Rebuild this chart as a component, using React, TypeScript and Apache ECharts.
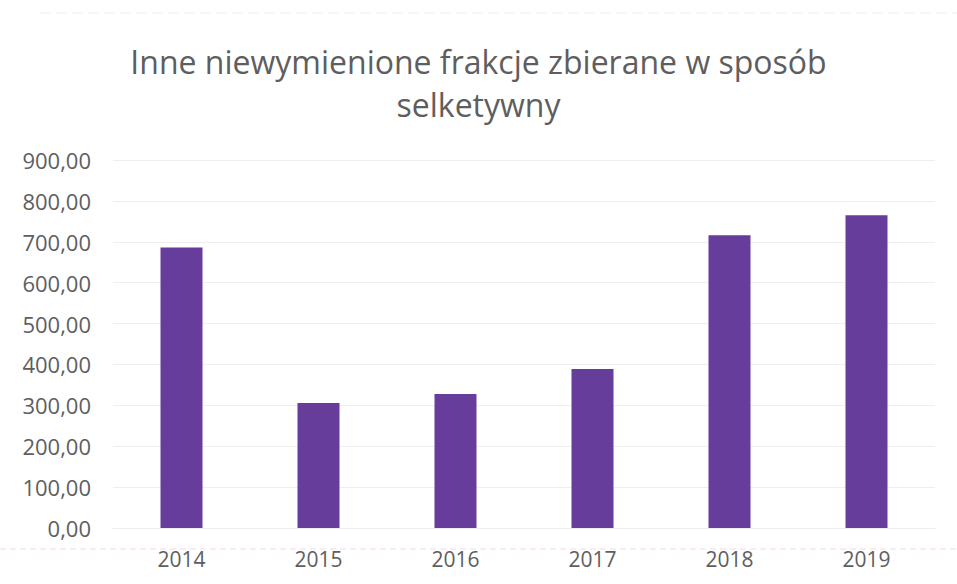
import React, { useEffect, useRef } from "react";
import * as echarts from "echarts";

const titleText = "Inne niewymienione frakcje zbierane w sposób\nselketywny";
const categories = ["2014", "2015", "2016", "2017", "2018", "2019"];
const values = [686, 306, 328, 389, 716, 765];
const yMin = 0;
const yMax = 900;
const yInterval = 100;

export default function App() {
  const ref = useRef<HTMLDivElement>(null);
  useEffect(() => {
    if (!ref.current) return;
    const chart = echarts.init(ref.current, null, { renderer: "svg" });
    chart.setOption({
      animation: false,
      backgroundColor: "#ffffff",
      title: {
        text: titleText,
        left: "center",
        top: 40,
        padding: [0, 0, 0, 9],
        textStyle: {
          fontFamily: "Open Sans",
          fontSize: 32,
          fontWeight: "normal",
          color: "#5e5e5e",
          lineHeight: 43,
        },
      },
      grid: { left: 113, right: 22, top: 160, bottom: 56, containLabel: false },
      xAxis: {
        type: "category",
        data: categories,
        axisTick: { show: false },
        axisLine: { show: true, lineStyle: { color: "#ececec", width: 1 } },
        axisLabel: {
          margin: 20,
          fontFamily: "Open Sans",
          fontSize: 21,
          color: "#5e5e5e",
        },
      },
      yAxis: {
        type: "value",
        min: yMin,
        max: yMax,
        interval: yInterval,
        axisLine: { show: false },
        axisTick: { show: false },
        splitLine: { lineStyle: { color: "#efefef", width: 1 } },
        axisLabel: {
          margin: 22,
          fontFamily: "Open Sans",
          fontSize: 22,
          color: "#5e5e5e",
          formatter: (v: number) => v.toFixed(2).replace(".", ","),
        },
      },
      series: [
        {
          type: "bar",
          data: values,
          barWidth: 42,
          itemStyle: { color: "#663d9a" },
        },
      ],
      graphic: [
        {
          type: "line",
          shape: { x1: 0, y1: 549, x2: 957, y2: 549 },
          style: { stroke: "#f4d6ea", lineWidth: 1, lineDash: [6, 4] },
          silent: true,
        },
        {
          type: "line",
          shape: { x1: 40, y1: 13, x2: 957, y2: 13 },
          style: { stroke: "#ededed", lineWidth: 1, lineDash: [10, 6] },
          silent: true,
        },
      ],
    });
    return () => chart.dispose();
  }, []);
  return <div ref={ref} style={{ width: 957, height: 584, position: "absolute", left: 0, top: 0 }} />;
}
